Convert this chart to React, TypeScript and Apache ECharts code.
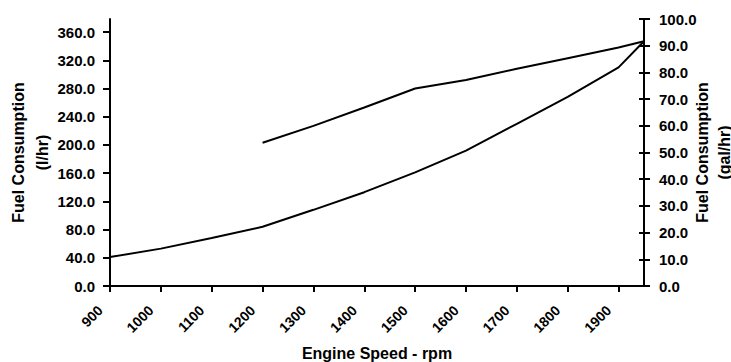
import React, { useEffect, useRef } from "react";
import * as echarts from "echarts";

const rpmLower = [900, 1000, 1100, 1200, 1300, 1400, 1500, 1600, 1700, 1800, 1900, 1950];
const fuelLower = [41, 53, 68, 84, 108, 133, 161, 192, 230, 268, 310, 347];
const rpmUpper = [1200, 1300, 1400, 1500, 1600, 1700, 1800, 1900, 1950];
const fuelUpper = [203, 227, 253, 280, 292, 308, 323, 338, 347];
const xTicks = [900, 1000, 1100, 1200, 1300, 1400, 1500, 1600, 1700, 1800, 1900];
const leftTicks = [0, 40, 80, 120, 160, 200, 240, 280, 320, 360];
const rightTicks = [0, 10, 20, 30, 40, 50, 60, 70, 80, 90, 100];
const LITRES_PER_GAL = 3.7854;

export default function App() {
  const ref = useRef<HTMLDivElement>(null);
  useEffect(() => {
    if (!ref.current) return;
    const chart = echarts.init(ref.current, null, { renderer: "svg" });
    const font = "Arial, 'Liberation Sans', sans-serif";
    const black = "#000";
    const labelStyle = { color: black, fontWeight: "bold" as const, fontSize: 15, fontFamily: font };
    const nameStyle = { color: black, fontWeight: "bold" as const, fontSize: 16, fontFamily: font, lineHeight: 24 };
    chart.setOption({
      animation: false,
      backgroundColor: "#fff",
      grid: { left: 110, right: 87, top: 19, bottom: 76, containLabel: false, outerBoundsMode: "none" },
      xAxis: {
        type: "value",
        min: 900,
        max: 1950,
        interval: 100,
        name: "Engine Speed - rpm",
        nameLocation: "middle",
        nameGap: 59,
        nameMoveOverlap: false,
        nameTextStyle: { ...nameStyle, lineHeight: 16 },
        axisLine: { show: true, lineStyle: { color: black, width: 2 } },
        axisTick: { show: true, length: 6, lineStyle: { color: black, width: 2 }, customValues: xTicks },
        axisLabel: {
          ...labelStyle,
          fontSize: 14,
          rotate: 45,
          margin: 12,
          padding: [0, 14, 0, 0],
          customValues: xTicks,
          formatter: (v: number) => String(v),
        },
        splitLine: { show: false },
      },
      yAxis: [
        {
          type: "value",
          position: "left",
          min: 0,
          max: 100 * LITRES_PER_GAL,
          interval: 40,
          name: "Fuel Consumption\n(l/hr)",
          nameLocation: "middle",
          nameGap: 56,
          nameMoveOverlap: false,
          nameTextStyle: nameStyle,
          axisLine: { show: true, lineStyle: { color: black, width: 2 } },
          axisTick: { show: true, length: 7, lineStyle: { color: black, width: 2 }, customValues: leftTicks },
          axisLabel: { ...labelStyle, margin: 15, customValues: leftTicks, formatter: (v: number) => v.toFixed(1) },
          splitLine: { show: false },
        },
        {
          type: "value",
          position: "right",
          min: 0,
          max: 100,
          interval: 10,
          name: "Fuel Consumption\n(gal/hr)",
          nameLocation: "middle",
          nameGap: 47,
          nameMoveOverlap: false,
          nameTextStyle: { ...nameStyle, lineHeight: 22 },
          axisLine: { show: true, lineStyle: { color: black, width: 2 } },
          axisTick: { show: true, length: 6, lineStyle: { color: black, width: 2 }, customValues: rightTicks },
          axisLabel: { ...labelStyle, margin: 15, customValues: rightTicks, formatter: (v: number) => v.toFixed(1) },
          splitLine: { show: false },
        },
        {
          type: "value",
          position: "right",
          min: 0,
          max: 100,
          interval: 10,
          axisLine: { show: false },
          axisTick: { show: true, inside: true, length: 5, lineStyle: { color: black, width: 2 }, customValues: rightTicks },
          axisLabel: { show: false },
          splitLine: { show: false },
        },
      ],
      series: [
        {
          type: "line",
          yAxisIndex: 0,
          data: rpmLower.map((x, i) => [x, fuelLower[i]]),
          symbol: "none",
          lineStyle: { color: black, width: 2 },
        },
        {
          type: "line",
          yAxisIndex: 0,
          data: rpmUpper.map((x, i) => [x, fuelUpper[i]]),
          symbol: "none",
          lineStyle: { color: black, width: 2 },
        },
      ],
    });
    return () => chart.dispose();
  }, []);
  return <div ref={ref} style={{ position: "fixed", left: 0, top: 0, width: 731, height: 362, background: "#fff" }} />;
}
